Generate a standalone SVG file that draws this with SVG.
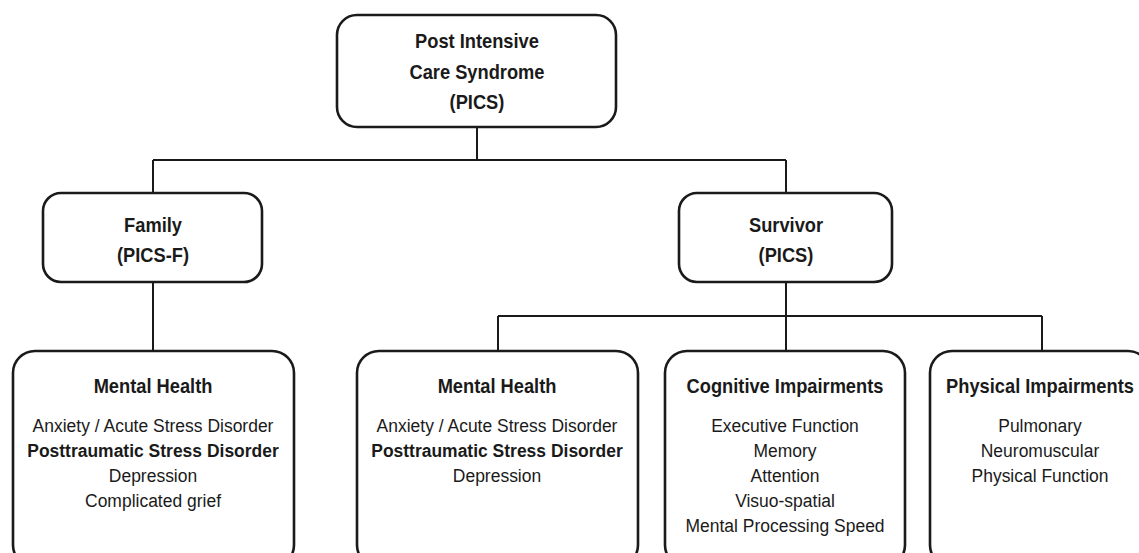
<svg xmlns="http://www.w3.org/2000/svg" width="1139" height="553" viewBox="0 0 1139 553">
<style>
.box{fill:#fff;stroke:#1a1a1a;stroke-width:2.6}
.ln{fill:none;stroke:#1a1a1a;stroke-width:2}
text{font-family:"Liberation Sans",Arial,sans-serif;fill:#1a1a1a;text-anchor:middle}
.t{font-weight:bold;font-size:21px}
.b{font-size:19px}
.bb{font-size:19px;font-weight:bold}
</style>
<rect width="1139" height="553" fill="#fff"/>
<g id="connectors">
<path class="ln" d="M477 127V160M153 160H786M153 160V193M786 160V193M153 282V351M786 282V351M498 316H1042M498 316V351M1042 316V351"/>
</g>
<g id="pics">
<rect class="box" x="337" y="15" width="279" height="112" rx="20"/>
<g transform="translate(477 0) scale(0.87 1)">
<text class="t" x="0" y="48">Post Intensive</text>
<text class="t" x="0" y="79">Care Syndrome</text>
<text class="t" x="0" y="109">(PICS)</text>
</g>
</g>
<g id="family">
<rect class="box" x="43" y="193" width="219" height="89" rx="18"/>
<g transform="translate(153 0) scale(0.87 1)">
<text class="t" x="0" y="232">Family</text>
<text class="t" x="0" y="262">(PICS-F)</text>
</g>
</g>
<g id="survivor">
<rect class="box" x="679" y="193" width="213" height="89" rx="18"/>
<g transform="translate(786 0) scale(0.87 1)">
<text class="t" x="0" y="232">Survivor</text>
<text class="t" x="0" y="262">(PICS)</text>
</g>
</g>
<g id="family-mental">
<rect class="box" x="13" y="351" width="281" height="216" rx="22"/>
<text class="t" transform="translate(153 0) scale(0.87 1)" x="0" y="393">Mental Health</text>
<g transform="translate(153 0) scale(0.92 1)">
<text class="b" x="0" y="432">Anxiety / Acute Stress Disorder</text>
<text class="bb" x="0" y="457">Posttraumatic Stress Disorder</text>
<text class="b" x="0" y="482">Depression</text>
<text class="b" x="0" y="507">Complicated grief</text>
</g>
</g>
<g id="survivor-mental">
<rect class="box" x="357" y="351" width="281" height="216" rx="22"/>
<text class="t" transform="translate(497 0) scale(0.87 1)" x="0" y="393">Mental Health</text>
<g transform="translate(497 0) scale(0.92 1)">
<text class="b" x="0" y="432">Anxiety / Acute Stress Disorder</text>
<text class="bb" x="0" y="457">Posttraumatic Stress Disorder</text>
<text class="b" x="0" y="482">Depression</text>
</g>
</g>
<g id="cognitive">
<rect class="box" x="665" y="351" width="240" height="216" rx="22"/>
<text class="t" transform="translate(785 0) scale(0.87 1)" x="0" y="393">Cognitive Impairments</text>
<g transform="translate(785 0) scale(0.92 1)">
<text class="b" x="0" y="432">Executive Function</text>
<text class="b" x="0" y="457">Memory</text>
<text class="b" x="0" y="482">Attention</text>
<text class="b" x="0" y="507">Visuo-spatial</text>
<text class="b" x="0" y="532">Mental Processing Speed</text>
</g>
</g>
<g id="physical">
<rect class="box" x="930" y="351" width="220" height="216" rx="22"/>
<text class="t" transform="translate(1040 0) scale(0.87 1)" x="0" y="393">Physical Impairments</text>
<g transform="translate(1040 0) scale(0.92 1)">
<text class="b" x="0" y="432">Pulmonary</text>
<text class="b" x="0" y="457">Neuromuscular</text>
<text class="b" x="0" y="482">Physical Function</text>
</g>
</g>
</svg>
